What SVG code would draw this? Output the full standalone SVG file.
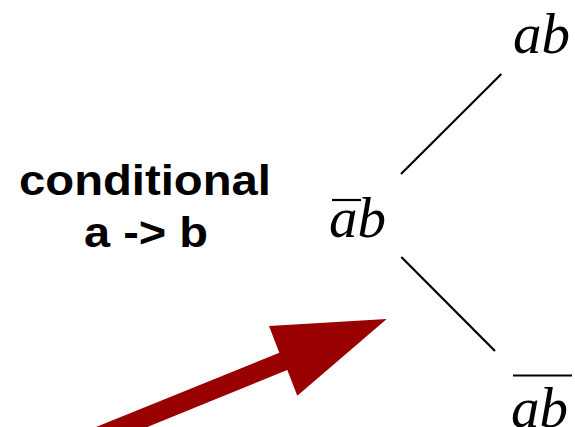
<svg xmlns="http://www.w3.org/2000/svg" width="575" height="427" viewBox="0 0 575 427">
<style>
.lbl{font-family:"Liberation Sans",Arial,sans-serif;font-weight:bold;font-size:43px;fill:#000}
.math{font-family:"Liberation Serif","Times New Roman",serif;font-style:italic;font-size:57px;fill:#000}
.edge{stroke:#000;stroke-width:2.2;fill:none}
.bar{stroke:#000;stroke-width:2.2}
</style>
<rect width="575" height="427" fill="#fff"/>
<g id="label">
<text class="lbl" x="145" y="195" text-anchor="middle" textLength="252" lengthAdjust="spacingAndGlyphs">conditional</text>
<text class="lbl" x="146" y="247" text-anchor="middle" textLength="124" lengthAdjust="spacingAndGlyphs">a -&gt; b</text>
</g>
<g id="node-top">
<text class="math" x="513" y="53">ab</text>
</g>
<g id="node-mid">
<text class="math" x="329" y="237">ab</text>
<line class="bar" x1="332" y1="200" x2="361" y2="200"/>
</g>
<g id="node-bottom">
<text class="math" x="511" y="427">ab</text>
<line class="bar" x1="513" y1="375.5" x2="572" y2="375.5"/>
</g>
<g id="connectors">
<line class="edge" x1="401" y1="174" x2="501.3" y2="74"/>
<line class="edge" x1="401.3" y1="257" x2="495" y2="351"/>
</g>
<g id="arrow">
<polygon fill="#990000" points="96,427 279.3,352.7 269,326 386.7,319 297.3,395.7 287.3,370 147.3,427"/>
</g>
</svg>
